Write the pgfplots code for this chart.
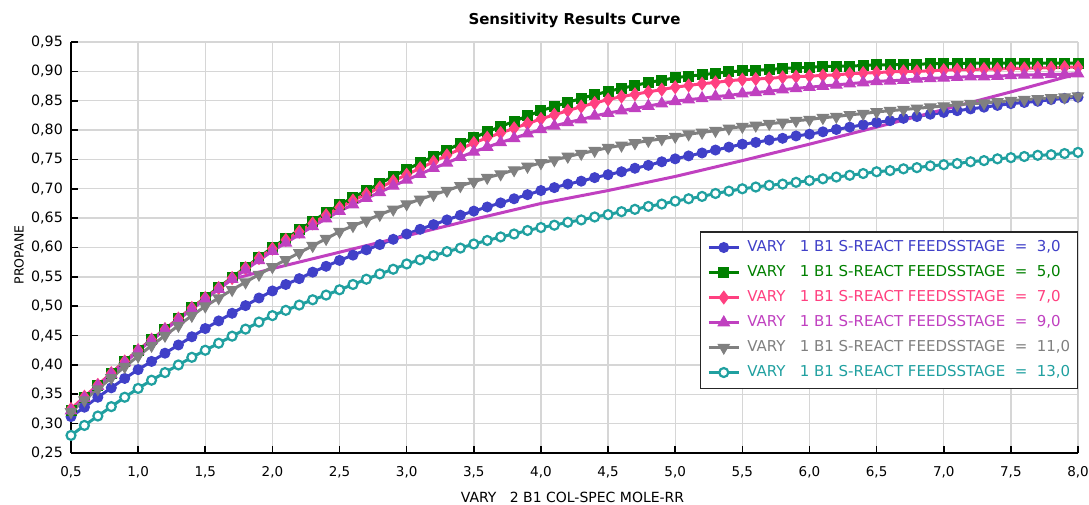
\documentclass[border=0pt]{standalone}
\usepackage{pgfplots}
\pgfplotsset{compat=1.18}
\usepackage{pgfplotstable}
\usepackage{fontspec}
\setmainfont{DejaVu Sans}

\definecolor{cblue}{RGB}{64,64,200}
\definecolor{cgreen}{RGB}{0,128,0}
\definecolor{cpink}{RGB}{255,64,128}
\definecolor{cmag}{RGB}{192,64,192}
\definecolor{cgray}{RGB}{128,128,128}
\definecolor{cteal}{RGB}{32,160,160}
\definecolor{gridgray}{RGB}{214,214,214}

% PROPANE vs reflux ratio, one column per feed stage
\pgfplotstableread{
x   blue  green pink  mag   gray  teal
0.5 0.312 0.323 0.325 0.322 0.320 0.280
0.6 0.328 0.344 0.346 0.343 0.340 0.297
0.7 0.345 0.365 0.366 0.364 0.359 0.313
0.8 0.361 0.386 0.386 0.384 0.378 0.329
0.9 0.377 0.406 0.406 0.404 0.397 0.345
1.0 0.392 0.425 0.425 0.424 0.415 0.360
1.1 0.406 0.443 0.443 0.442 0.433 0.374
1.2 0.420 0.461 0.461 0.460 0.450 0.387
1.3 0.434 0.479 0.479 0.477 0.467 0.400
1.4 0.448 0.497 0.497 0.495 0.484 0.413
1.5 0.462 0.515 0.514 0.512 0.500 0.425
1.6 0.475 0.532 0.531 0.529 0.514 0.437
1.7 0.488 0.549 0.548 0.546 0.528 0.449
1.8 0.501 0.566 0.565 0.562 0.541 0.461
1.9 0.514 0.583 0.582 0.578 0.554 0.473
2.0 0.526 0.600 0.598 0.594 0.567 0.484
2.1 0.537 0.615 0.613 0.608 0.579 0.493
2.2 0.547 0.630 0.627 0.622 0.591 0.502
2.3 0.558 0.645 0.641 0.636 0.603 0.511
2.4 0.568 0.659 0.655 0.649 0.615 0.519
2.5 0.578 0.673 0.668 0.662 0.627 0.528
2.6 0.587 0.685 0.680 0.673 0.637 0.537
2.7 0.596 0.697 0.691 0.684 0.646 0.546
2.8 0.605 0.709 0.702 0.694 0.656 0.555
2.9 0.614 0.721 0.713 0.705 0.665 0.563
3.0 0.623 0.733 0.724 0.715 0.674 0.572
3.1 0.631 0.744 0.735 0.725 0.682 0.579
3.2 0.639 0.755 0.746 0.735 0.690 0.586
3.3 0.647 0.766 0.757 0.744 0.697 0.593
3.4 0.655 0.777 0.768 0.754 0.705 0.599
3.5 0.662 0.787 0.778 0.763 0.712 0.606
3.6 0.669 0.797 0.787 0.771 0.719 0.612
3.7 0.676 0.806 0.795 0.779 0.725 0.618
3.8 0.683 0.815 0.803 0.786 0.732 0.623
3.9 0.690 0.824 0.811 0.794 0.738 0.629
4.0 0.697 0.833 0.819 0.801 0.744 0.634
4.1 0.702 0.840 0.826 0.807 0.749 0.638
4.2 0.708 0.847 0.833 0.813 0.755 0.643
4.3 0.713 0.854 0.840 0.818 0.760 0.647
4.4 0.719 0.860 0.846 0.824 0.765 0.652
4.5 0.724 0.866 0.852 0.829 0.770 0.656
4.6 0.729 0.871 0.857 0.833 0.774 0.661
4.7 0.735 0.876 0.861 0.837 0.778 0.665
4.8 0.740 0.881 0.865 0.841 0.782 0.670
4.9 0.746 0.885 0.869 0.845 0.785 0.674
5.0 0.751 0.889 0.873 0.849 0.789 0.679
5.1 0.756 0.892 0.876 0.852 0.793 0.683
5.2 0.761 0.894 0.879 0.854 0.796 0.687
5.3 0.766 0.897 0.881 0.857 0.799 0.692
5.4 0.771 0.899 0.884 0.859 0.803 0.696
5.5 0.776 0.901 0.886 0.862 0.806 0.700
5.6 0.779 0.902 0.887 0.864 0.808 0.703
5.7 0.783 0.903 0.888 0.866 0.811 0.706
5.8 0.786 0.905 0.890 0.869 0.813 0.708
5.9 0.790 0.906 0.891 0.871 0.816 0.711
6.0 0.793 0.907 0.892 0.873 0.818 0.714
6.1 0.797 0.908 0.893 0.875 0.821 0.717
6.2 0.801 0.909 0.894 0.877 0.823 0.720
6.3 0.805 0.909 0.896 0.879 0.826 0.723
6.4 0.809 0.910 0.897 0.881 0.828 0.726
6.5 0.813 0.911 0.898 0.883 0.831 0.729
6.6 0.816 0.911 0.899 0.884 0.833 0.731
6.7 0.820 0.912 0.900 0.885 0.835 0.734
6.8 0.823 0.912 0.900 0.887 0.837 0.736
6.9 0.827 0.913 0.901 0.888 0.839 0.739
7.0 0.830 0.913 0.902 0.889 0.841 0.741
7.1 0.833 0.913 0.903 0.890 0.843 0.743
7.2 0.836 0.914 0.903 0.891 0.845 0.746
7.3 0.839 0.914 0.904 0.891 0.846 0.748
7.4 0.842 0.914 0.904 0.892 0.848 0.751
7.5 0.845 0.914 0.905 0.893 0.850 0.753
7.6 0.847 0.914 0.905 0.894 0.852 0.755
7.7 0.849 0.914 0.906 0.894 0.853 0.757
7.8 0.852 0.914 0.906 0.895 0.855 0.758
7.9 0.854 0.914 0.907 0.895 0.856 0.760
8.0 0.856 0.914 0.907 0.896 0.858 0.762
}\data

\newcommand{\entry}[2]{\textcolor{#1}{VARY\ \ \ 1 B1 S-REACT FEEDSSTAGE\ \ =\ \ #2}}

\begin{document}
\begin{tikzpicture}
\begin{axis}[
    scale only axis,
    width=1007pt, height=411pt,
    xmin=0.5, xmax=8, ymin=0.25, ymax=0.95,
    clip=false,
    xtick={0.5,1.0,1.5,2.0,2.5,3.0,3.5,4.0,4.5,5.0,5.5,6.0,6.5,7.0,7.5,8.0},
    ytick={0.25,0.30,0.35,0.40,0.45,0.50,0.55,0.60,0.65,0.70,0.75,0.80,0.85,0.90,0.95},
    axis x line*=bottom, axis y line*=left,
    axis line style={line width=1.6pt, black},
    tick align=inside, major tick length=7pt,
    tick style={line width=1.6pt, black},
    grid=major, grid style={line width=1.4pt, gridgray},
    /pgf/number format/assume math mode=true,
    yticklabel style={font=\fontsize{14.2}{16}\selectfont, inner sep=0pt, anchor=east, xshift=-8pt,
        /pgf/number format/.cd, fixed, fixed zerofill, precision=2, use comma},
    xticklabel style={font=\fontsize{13.5}{16}\selectfont, inner sep=0pt, anchor=north, yshift=-13pt,
        /pgf/number format/.cd, fixed, fixed zerofill, precision=1, use comma},
    title={Sensitivity Results Curve},
    title style={font=\bfseries\fontsize{15}{18}\selectfont, at={(axis description cs:0.5,1)},
        anchor=base, inner sep=0pt, yshift=11pt},
    xlabel={VARY\ \ \ 2 B1 COL-SPEC MOLE-RR},
    xlabel style={font=\fontsize{14}{17}\selectfont, at={([xshift=-2pt,yshift=-39pt]axis description cs:0.5,0)},
        anchor=north, inner sep=0pt},
    ylabel={PROPANE},
    ylabel style={font=\fontsize{12.5}{15}\selectfont, at={([xshift=-47pt,yshift=-7.5pt]axis description cs:0,0.5)},
        anchor=south, inner sep=0pt},
    legend cell align=left,
    legend image code/.code={\draw[mark repeat=2,mark phase=2,#1] plot coordinates {(0pt,0pt) (15pt,0pt) (30pt,0pt)};},
    legend style={at={(axis description cs:1,0.1557)}, anchor=south east,
        draw=black!85, line width=1.5pt, fill=white,
        font=\fontsize{15}{17}\selectfont,
        inner xsep=7pt, inner ysep=9pt, row sep=11.5pt, column sep=7pt,
        nodes={inner sep=0pt, text height=10.5pt, text depth=3pt}},
]
\coordinate (bl) at (rel axis cs:0,0);
\coordinate (tr) at (rel axis cs:1,1);

\addplot[cblue, line width=3pt, mark=*, mark size=5pt, mark options={line width=1pt}]
    table[x=x, y=blue] {\data};
\addlegendentry{\entry{cblue}{3,0}}
\addplot[cgreen, line width=3pt, mark=square*, mark size=5pt, mark options={line width=1pt}]
    table[x=x, y=green] {\data};
\addlegendentry{\entry{cgreen}{5,0}}
\addplot[cpink, line width=3pt, mark=diamond*, mark size=6.3pt, mark options={line width=1pt}]
    table[x=x, y=pink] {\data};
\addlegendentry{\entry{cpink}{7,0}}
\addplot[cmag, line width=3pt, mark=triangle*, mark size=6.5pt, mark options={line width=1pt}]
    table[x=x, y=mag] {\data};
\addlegendentry{\entry{cmag}{9,0}}
% second, unmarked branch of the 9,0 series
\addplot[cmag, line width=3pt, no markers, forget plot] coordinates {
    (1.7,0.546) (2.0,0.564) (2.5,0.592) (3.0,0.620) (3.5,0.648) (4.0,0.675) (4.5,0.697)
    (5.0,0.721) (5.5,0.748) (6.0,0.776) (6.5,0.805) (7.0,0.835) (7.5,0.865) (8.0,0.896)
};
\addplot[cgray, line width=3pt, mark=triangle*, mark size=6.5pt, mark options={line width=1pt, rotate=180}]
    table[x=x, y=gray] {\data};
\addlegendentry{\entry{cgray}{11,0}}
\addplot[cteal, line width=3pt, mark=*, mark size=4.5pt, mark options={fill=white, line width=2.2pt}]
    table[x=x, y=teal] {\data};
\addlegendentry{\entry{cteal}{13,0}}
\end{axis}
\pgfresetboundingbox
\path[use as bounding box] ([shift={(-71pt,-51pt)}]bl) rectangle ([shift={(11pt,42pt)}]tr);
\end{tikzpicture}
\end{document}
